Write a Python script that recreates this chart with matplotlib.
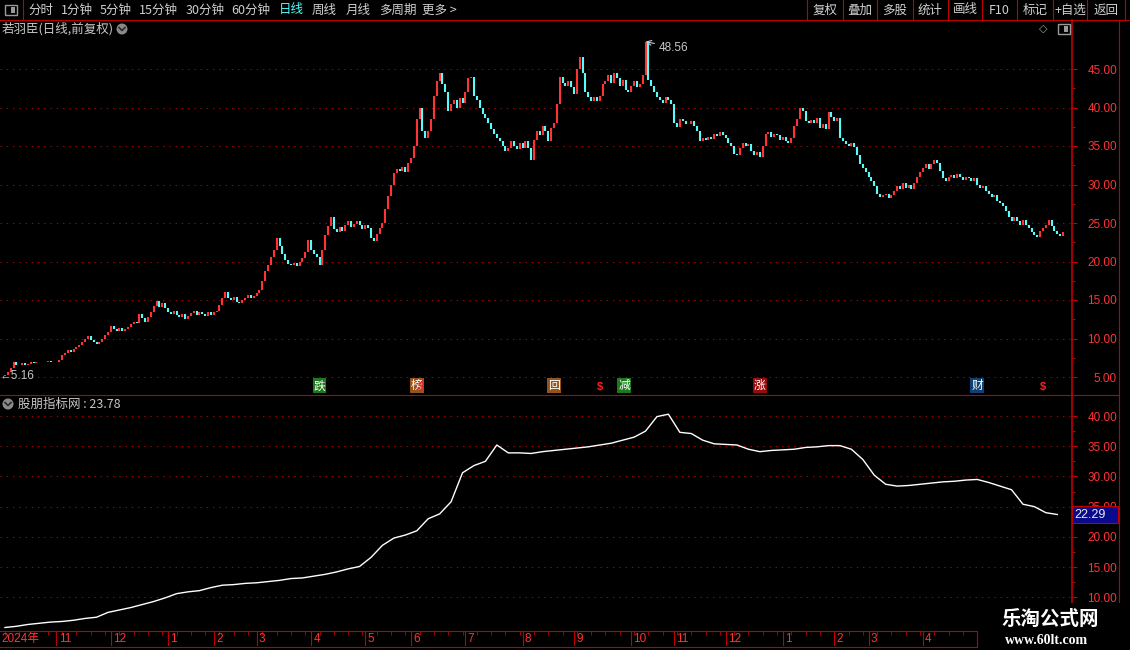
# -*- coding: utf-8 -*-
# 若羽臣 日线 + 股朋指标网 副图
import matplotlib
matplotlib.use('Agg')
import matplotlib.pyplot as plt
import numpy as np
from matplotlib.lines import Line2D
from matplotlib.patches import Rectangle, Ellipse
from matplotlib.transforms import blended_transform_factory

plt.rcParams['font.family'] = ['Noto Sans CJK SC', 'DejaVu Sans']

# ---------------- data ----------------
first_open = 5.16
closes = [
    5.3, 5.6, 6.2, 7.0,
    6.6, 6.5, 6.8, 6.6, 6.7, 6.9,
    6.8, 7.0, 6.9, 7.0, 6.9, 7.1, 7.0, 6.9, 7.0, 7.2,
    7.9, 8.1, 8.5, 8.2, 8.7, 8.9, 9.1,
    9.6, 10.0, 10.3, 9.8, 9.5, 9.3, 9.6,
    10.0, 10.4, 10.9, 11.6, 11.2,
    11.0, 11.3, 11.0, 11.2, 11.5, 11.9, 12.2, 12.0,
    13.2, 12.6, 12.2, 12.8,
    13.5, 14.2, 14.9, 14.1, 14.6, 14.0,
    13.5, 13.2, 13.6, 13.0, 12.8, 13.2, 12.5, 12.9,
    13.3, 13.6, 13.0, 13.4, 13.2, 12.9, 13.5, 13.1, 13.4, 13.6,
    14.4, 15.2, 16.0, 15.3, 15.0, 15.4,
    14.8, 14.6, 15.0, 15.3, 15.6, 15.2, 15.5, 15.9, 16.3,
    17.5, 18.8, 19.6, 20.6, 21.5, 23.0, 22.0,
    21.0, 20.2, 19.7, 19.5, 19.8, 19.4, 19.9,
    20.4, 21.2, 22.8, 21.5, 21.0, 20.6, 19.6,
    21.5, 23.5, 24.6, 25.8, 24.2, 23.8, 24.5, 24.0,
    24.8, 25.2, 24.5, 24.9, 25.3, 24.7, 24.2, 24.8, 24.4,
    23.0, 22.6, 23.6, 24.4,
    25.0, 26.8, 28.5, 30.0, 31.5, 32.0,
    31.8, 32.3, 31.6, 32.8, 33.5,
    35.0, 38.5, 40.0, 37.0, 36.0,
    37.0, 38.5, 41.5, 43.5, 44.5,
    43.0, 42.0, 39.5, 40.5,
    41.0, 40.0, 41.2, 40.6, 42.0,
    43.8, 44.0, 41.5, 41.0,
    40.0, 39.2, 38.6, 38.0,
    37.2, 36.6, 36.0, 35.6,
    35.0, 34.3, 34.8, 35.6, 35.0,
    34.6, 35.4, 34.8, 35.6, 34.8,
    33.2, 35.8, 37.0, 36.4,
    37.6, 37.0, 35.6, 37.4, 38.0,
    40.5, 44.0, 43.2,
    42.8, 43.5, 42.6, 41.8,
    45.0, 46.5, 44.5,
    42.0, 41.3, 40.8,
    41.3, 40.8, 41.5, 43.0,
    43.5, 44.2, 43.2, 44.5, 43.8, 42.8, 43.6,
    42.3, 42.0, 42.8, 43.4, 42.6,
    43.0, 44.2, 48.5,
    43.6, 42.8, 42.0, 41.4,
    41.0, 40.6, 41.3, 41.0, 40.5,
    38.0, 37.5, 38.5, 38.2, 37.8,
    37.8, 38.2, 37.6, 37.0,
    35.6, 36.0, 35.8, 36.2, 35.9,
    36.6, 36.3, 36.8, 36.4, 36.0,
    35.4, 35.0, 34.0, 33.8,
    34.8, 35.4, 35.0, 35.2,
    34.4, 33.8, 34.2, 33.6,
    35.0, 36.5, 36.8, 36.2, 36.6, 36.4,
    35.8, 36.2, 35.6, 35.4, 36.0,
    37.6, 38.5, 40.0,
    39.5, 38.2, 38.0,
    38.4, 38.0, 38.6,
    37.4, 37.8, 37.2,
    39.4, 38.8, 38.2, 38.6,
    36.0, 35.6, 35.2,
    35.0, 35.4, 34.9,
    33.8, 32.6, 32.2,
    31.6, 31.0, 30.4,
    29.8, 28.8,
    28.4, 28.6, 28.8, 28.3, 28.6,
    29.2, 29.8, 29.4, 30.2,
    29.6, 30.0, 29.4, 30.2,
    31.0, 31.6, 32.2, 32.6, 32.0,
    32.6, 33.2, 32.8, 31.8,
    30.8, 30.4, 31.0,
    31.2, 30.8, 31.4, 31.0,
    30.6, 31.0, 30.8, 30.4, 30.8,
    30.0, 29.6, 29.8, 29.2,
    28.8, 28.4, 28.6, 27.9,
    27.6, 27.2, 26.6, 25.8,
    25.3, 25.8, 25.2, 24.8,
    25.4, 24.8, 24.3, 23.8,
    23.4, 23.2, 23.9, 24.3,
    24.8, 25.4, 24.6,
    24.0, 23.6, 23.3, 23.8,
]
high_price = 48.56
low_price = 5.16

# 股朋指标网 (one value every 4 bars)
ind_step = 4
ind_vals = [
    5.0, 5.2, 5.5, 5.7, 5.9, 6.0, 6.2, 6.5, 6.7, 7.5,
    7.9, 8.3, 8.8, 9.3, 9.9, 10.6, 10.9, 11.1, 11.6, 12.0,
    12.1, 12.3, 12.4, 12.6, 12.8, 13.1, 13.2, 13.5, 13.8, 14.2,
    14.7, 15.1, 16.6, 18.6, 19.8, 20.3, 21.0, 23.0, 23.8, 25.8,
    30.6, 31.8, 32.5, 35.2, 33.9, 33.9, 33.8, 34.1, 34.3, 34.5,
    34.7, 34.9, 35.2, 35.5, 36.0, 36.5, 37.5, 39.9, 40.3, 37.3,
    37.1, 36.0, 35.4, 35.3, 35.2, 34.5, 34.1, 34.3, 34.4, 34.5,
    34.8, 34.9, 35.1, 35.1, 34.5, 32.8, 30.2, 28.7, 28.4, 28.5,
    28.7, 28.9, 29.1, 29.2, 29.4, 29.5, 29.0, 28.4, 27.8, 25.4,
    25.0, 24.0, 23.7,
]
ind_name = '股朋指标网'
ind_now = 23.78
cursor_val = '22.29'

# event badges under the candles
ev_labels = ['跌', '榜', '$', '回', '$', '减', '涨', '财', '$']
ev_index = [110, 144, 145.6, 192, 208, 216.5, 264, 340, 363]
ev_colors = ['#1C7A1C', '#94531C', None, '#94531C', None, '#1C7A1C', '#9A0A0A', '#0F3F73', None]

month_labels = ['11', '12', '1', '2', '3', '4', '5', '6', '7', '8', '9',
                '10', '11', '12', '1', '2', '3', '4']
month_index = [18, 37, 57, 73, 88, 107, 126, 142, 161, 181, 199,
               219, 234, 252, 272, 290, 302, 321]

menu_left = ['分时', '1分钟', '5分钟', '15分钟', '30分钟', '60分钟', '日线', '周线', '月线', '多周期', '更多 >']
menu_right = ['复权', '叠加', '多股', '统计', '画线', 'F10', '标记', '+自选', '返回']

# ---------------- style ----------------
W, H = 1130, 650
RED_LINE = '#C00000'
RED_TXT = '#FF3333'
GRID = '#A00000'
UP = '#FF3333'
DOWN = '#54FCFC'
GRAY = '#C8C8C8'
NUM_FONT = ['Liberation Sans', 'DejaVu Sans']

fig = plt.figure(figsize=(W / 100, H / 100), dpi=100, facecolor='black')


def rect(x0, y0, x1, y1):
    return [x0 / W, 1 - y1 / H, (x1 - x0) / W, (y1 - y0) / H]


def fx(x):
    return x / W


def fy(y):
    return 1 - y / H


def hline(y, x0, x1, color=RED_LINE, lw=0.8):
    fig.add_artist(Line2D([fx(x0), fx(x1)], [fy(y), fy(y)], color=color, lw=lw))


def vline(x, y0, y1, color=RED_LINE, lw=0.8):
    fig.add_artist(Line2D([fx(x), fx(x)], [fy(y0), fy(y1)], color=color, lw=lw))


def chevron_icon(x, y):
    r = 5.5
    fig.add_artist(Ellipse((fx(x), fy(y)), 2 * r / W, 2 * r / H, fc='#8A8A8A', ec='none'))
    fig.add_artist(Line2D([fx(x - 3), fx(x), fx(x + 3)], [fy(y - 1.5), fy(y + 1.5), fy(y - 1.5)],
                          color='#2A2A2A', lw=1.2))


def toggle_icon(x0, y0):
    fig.add_artist(Rectangle((fx(x0), fy(y0 + 10)), 12 / W, 10 / H, fc='none', ec='#9A9A9A', lw=1))
    fig.add_artist(Rectangle((fx(x0 + 6), fy(y0 + 8)), 4 / W, 6 / H, fc='#9A9A9A', ec='none'))


n = len(closes)
sp = 1058.0 / (n - 1)            # pixels per bar
x_left = -5.0 / sp
x_right = (1072 - 5.0) / sp
idx = np.arange(n)
opens = np.r_[first_open, closes[:-1]]
cl = np.array(closes)
up = cl >= opens

# ---------------- main panel ----------------
ax = fig.add_axes(rect(0, 20, 1072, 394))
ax.set_facecolor('black')
ax.set_xlim(x_left, x_right)
ax.set_ylim(5 - 17 / 7.7, 45 + 49 / 7.7)
ax.vlines(idx[up], opens[up], cl[up], colors=UP, lw=1.5)
ax.vlines(idx[~up], cl[~up], opens[~up], colors=DOWN, lw=1.5)

pk = int(np.argmax(cl))
ax.annotate(f'{high_price:.2f}', xy=(pk, high_price), xytext=(13, -6), textcoords='offset pixels',
            color=GRAY, fontsize=8.5, family=NUM_FONT, ha='left', va='center',
            arrowprops=dict(arrowstyle='->', color=GRAY, lw=0.8, shrinkA=1, shrinkB=0))
ax.text(x_left, low_price, f'←{low_price:.2f}', color=GRAY, fontsize=8.5, family=NUM_FONT,
        ha='left', va='center')

for lab, i, c in zip(ev_labels, ev_index, ev_colors):
    if c is None:
        ax.text(i, 3.75, lab, color='#FF2020', fontsize=8, fontweight='bold', family=NUM_FONT,
                ha='center', va='center')
    else:
        ax.text(i, 3.85, lab, color='white', fontsize=8.5, ha='center', va='center',
                bbox=dict(boxstyle='square,pad=0.08', fc=c, ec='none'))

p_ticks = np.arange(5, 46, 5)
low_ticks = np.arange(10, 41, 5)

for a, ticks in ((ax, p_ticks),):
    pass


def style_axis(a, ticks):
    for s in ('top', 'left', 'bottom'):
        a.spines[s].set_visible(False)
    a.spines['right'].set_color(RED_LINE)
    a.spines['right'].set_linewidth(1.2)
    a.set_xticks([])
    a.yaxis.tick_right()
    a.set_yticks(ticks, labels=[f'{t:.2f}' for t in ticks], ha='right',
                 color=RED_TXT, fontsize=8.5, family=NUM_FONT)
    a.set_yticks(ticks[:-1] + 2.5, minor=True)
    a.tick_params(axis='y', which='major', length=3.6, width=0.8, color=RED_LINE, pad=28.8)
    a.tick_params(axis='y', which='minor', length=2.2, width=0.8, color=RED_LINE)
    a.yaxis.grid(True, which='major', color=GRID, lw=0.75, linestyle=(0, (1.4, 4.6)))


style_axis(ax, p_ticks)

# ---------------- indicator panel ----------------
ax2 = fig.add_axes(rect(0, 395, 1072, 630))
ax2.set_facecolor('black')
ax2.set_xlim(x_left, x_right)
ax2.set_ylim(10 - 32.7 / 6.04, 40 + 21 / 6.04)
ind_x = np.arange(len(ind_vals)) * ind_step
ax2.plot(ind_x, ind_vals, color='white', lw=1.0)
style_axis(ax2, low_ticks)

bt = blended_transform_factory(ax2.transAxes, ax2.transData)
ax2.add_patch(Rectangle((1.0, ind_vals[-1] - 1.35), 46 / 1072, 2.7, transform=bt,
                        fc='#0A0A8C', ec=RED_LINE, lw=0.8, clip_on=False, zorder=5))
ax2.text(1.0 + 2 / 1072, ind_vals[-1], cursor_val, transform=bt, color='#E8E8E8', fontsize=9,
         family=NUM_FONT, ha='left', va='center', zorder=6, clip_on=False)

# ---------------- date axis ----------------
axd = fig.add_axes(rect(0, 631, 976, 646))
axd.set_facecolor('black')
axd.set_xlim(x_left, (976 - 5.0) / sp)
axd.set_ylim(0, 1)
axd.axis('off')
axd.vlines(month_index, 0, 1, colors=RED_LINE, lw=0.8)
axd.vlines(np.arange(0, (976 - 5.0) / sp, 5), 0.72, 1, colors=RED_LINE, lw=0.6)
axd.text(x_left + 0.4, 0.45, '2024年', color=RED_TXT, fontsize=8.5,
         family=['Liberation Sans', 'Noto Sans CJK SC'], ha='left', va='center')
for lab, i in zip(month_labels, month_index):
    axd.text(i + 0.8, 0.45, lab, color=RED_TXT, fontsize=8.5, family=NUM_FONT, ha='left', va='center')

# ---------------- frame lines ----------------
hline(19.5, 0, W)
vline(22.5, 0, 19.5)
hline(394.5, 0, 1119)
vline(1118.5, 20, 630)
hline(630.5, 0, 976)
hline(646.5, 0, 976)
vline(976.5, 630.5, 646.5)

# toolbar
toggle_icon(5, 5)
menu_x = [28, 61, 100, 139, 186, 231, 279, 312, 346, 379, 422]
for lab, x in zip(menu_left, menu_x):
    fig.text(fx(x), fy(10), lab, color='#54FCFC' if lab == '日线' else '#D0D0D0',
             fontsize=9, ha='left', va='center')
seps = [807, 842, 876, 912, 947, 981, 1016, 1052, 1086, 1124]
for s in seps:
    vline(s + 0.5, 0, 19.5)
for lab, a, b in zip(menu_right, seps[:-1], seps[1:]):
    fig.text(fx((a + b) / 2 + 1), fy(10), lab, color='#D0D0D0', fontsize=9, ha='center', va='center')

# title rows
fig.text(fx(2), fy(29), '若羽臣(日线,前复权)', color=GRAY, fontsize=9, ha='left', va='center')
chevron_icon(122, 29)
fig.text(fx(1043), fy(29), '◇', color='#9A9A9A', fontsize=8, family='DejaVu Sans',
         ha='center', va='center')
toggle_icon(1058, 24)
chevron_icon(8, 404)
fig.text(fx(18), fy(404), f'{ind_name} : {ind_now:.2f}', color=GRAY, fontsize=9,
         ha='left', va='center')

# watermark
fig.add_artist(Rectangle((fx(980), fy(650)), 150 / W, 47 / H, fc='black', ec='none', zorder=8))
fig.text(fx(1050), fy(619), '乐淘公式网', color='white', fontsize=14, fontweight='bold',
         ha='center', va='center', zorder=9)
fig.text(fx(1047), fy(640), 'www.60lt.com', color='white', fontsize=10, fontweight='bold',
         family='Liberation Serif', ha='center', va='center', zorder=9)

fig.savefig('out.png', dpi=100, facecolor='black')
